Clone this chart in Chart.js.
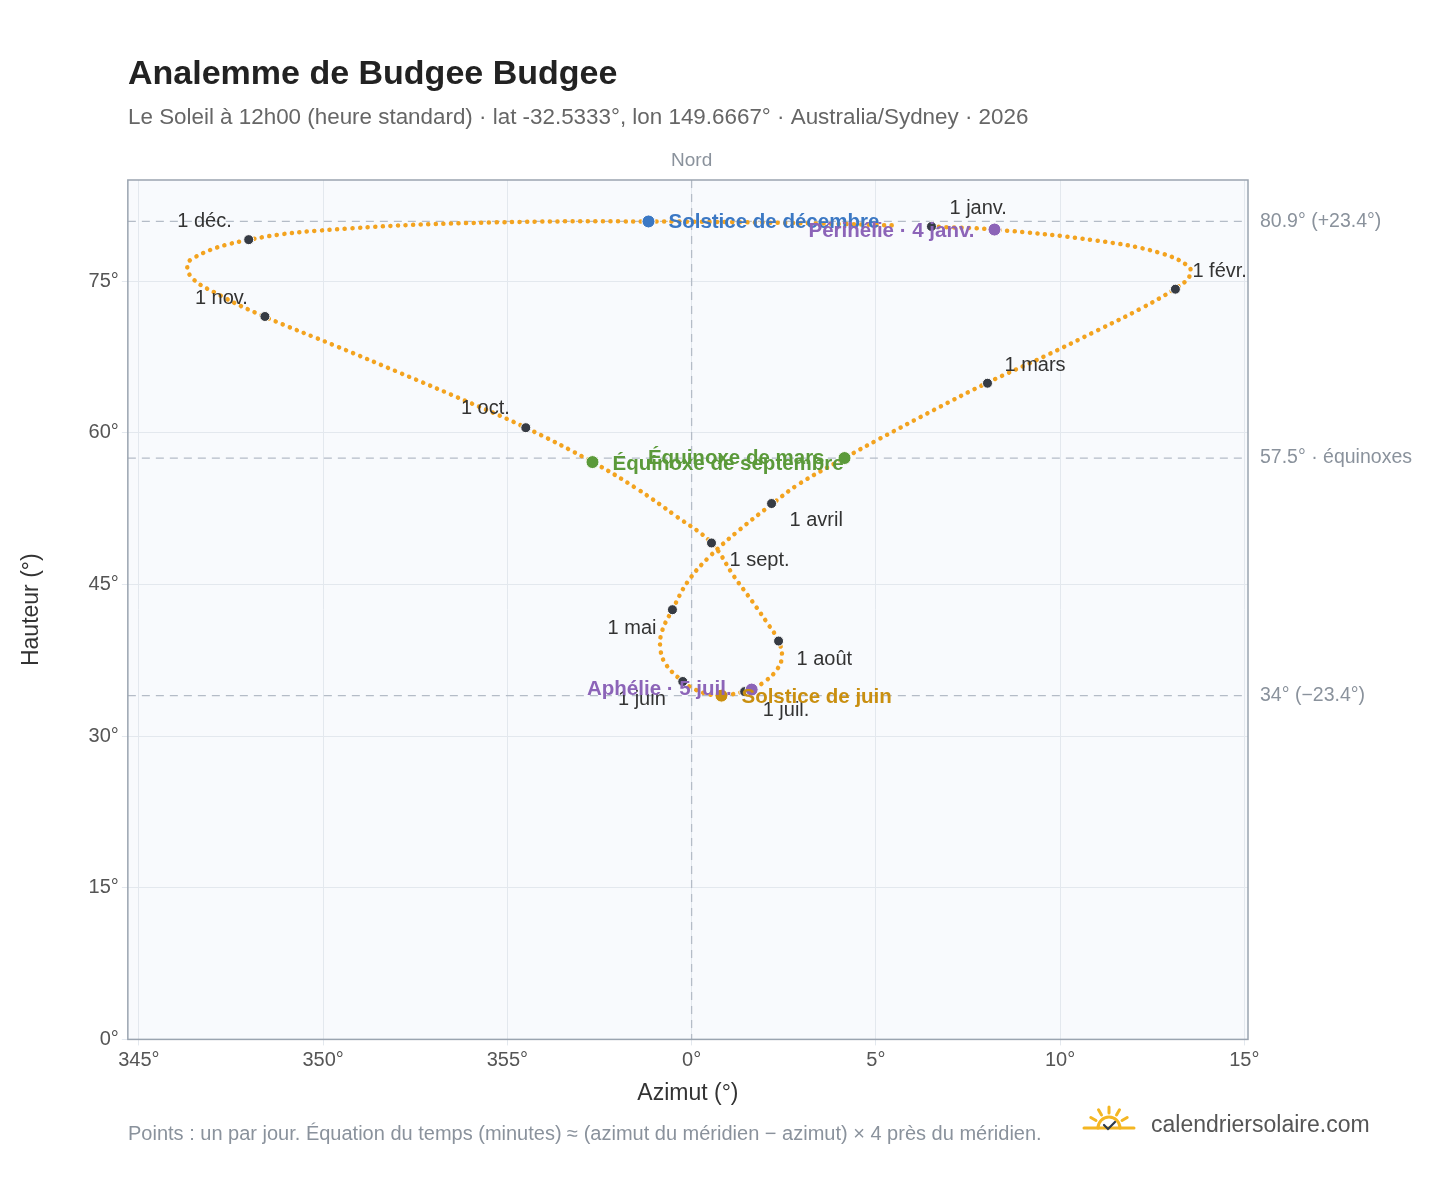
<!DOCTYPE html>
<html><head><meta charset="utf-8">
<script src="https://cdn.jsdelivr.net/npm/chart.js@4/dist/chart.umd.min.js"></script>
<style>html,body{margin:0;background:#fff}#wrap{width:1448px;height:1188px}</style>
</head><body><div id="wrap"><canvas id="c" width="1448" height="1188"></canvas></div>
<script>
// trajectoire du Soleil à midi (azimut relatif au nord, hauteur)
const pathAz = [6.5,8.2,11.0,12.7,13.5,13.5,13.1,12.2,11.0,9.6,8.0,6.6,5.1,4.15,2.9,2.2,1.3,0.5,-0.1,-0.52,-0.8,-0.85,-0.7,-0.24,0.1,0.5,0.81,1.44,1.65,1.95,2.3,2.45,2.36,2.05,1.65,1.15,0.54,-0.4,-1.5,-2.69,-4.5,-6.1,-7.9,-9.6,-11.6,-12.8,-13.6,-13.6,-12.0,-9.3,-5.4,-1.17,3.4,5.6];
const pathAlt = [80.4,80.1,79.0,77.8,76.4,75.4,74.2,72.3,70.1,67.6,64.9,62.3,59.4,57.5,54.9,53.0,50.4,47.8,45.3,42.5,40.4,38.7,37.1,35.4,34.6,34.1,34.0,34.4,34.7,35.3,36.5,37.8,39.4,41.2,43.3,45.8,49.1,51.7,54.5,57.1,60.5,63.1,65.9,68.5,71.5,73.6,75.5,77.1,79.1,80.2,80.8,80.9,80.7,80.5];

const monthLabels = ['1 janv.','1 févr.','1 mars','1 avril','1 mai','1 juin','1 juil.','1 août','1 sept.','1 oct.','1 nov.','1 déc.'];
const monthAz = [6.51,13.13,8.03,2.17,-0.52,-0.24,1.44,2.36,0.54,-4.50,-11.58,-12.02];
const monthAlt = [80.4,74.2,64.9,53.0,42.5,35.4,34.4,39.4,49.1,60.5,71.5,79.1];

const eventLabels = ['Solstice de décembre','Périhélie · 4 janv.','Équinoxe de mars','Équinoxe de septembre','Solstice de juin','Aphélie · 5 juil.'];
const eventAz = [-1.17,8.22,4.15,-2.69,0.81,1.63];
const eventAlt = [80.9,80.1,57.5,57.1,34.0,34.6];
const eventColors = ['#3b78c4','#8c64b8','#5b9a3a','#5b9a3a','#c98f10','#8c64b8'];

const refLines = [80.9, 57.5, 34.0];
const refLabels = ['80.9° (+23.4°)','57.5° · équinoxes','34° (−23.4°)'];
const xTicks = [-15,-10,-5,0,5,10,15];
const yTicks = [0,15,30,45,60,75];

// décalages des étiquettes [dx, dy, alignement]
const monthOffsets = [[18,-18,'left'],[17,-18,'left'],[17,-18,'left'],[18,17,'left'],[-16,19,'right'],[-17,18,'right'],[18,19,'left'],[18,18,'left'],[18,18,'left'],[-16,-19,'right'],[-17,-18,'right'],[-17,-18,'right']];
const eventOffsets = [[20,1,'left'],[-20,2,'right'],[-20,0,'right'],[20,2,'left'],[20,2,'left'],[-20,0,'right']];

const FONT = '"Liberation Sans", Arial, sans-serif';

const decor = {
  id: 'decor',
  beforeDatasetsDraw(chart) {
    const {ctx, chartArea: a, scales: {x, y}} = chart;
    ctx.save();
    ctx.strokeStyle = '#b4bcc7'; ctx.lineWidth = 1.3; ctx.setLineDash([8, 6]);
    refLines.forEach(v => {
      const py = y.getPixelForValue(v);
      ctx.beginPath(); ctx.moveTo(a.left, py); ctx.lineTo(a.right, py); ctx.stroke();
    });
    const px0 = x.getPixelForValue(0);
    ctx.beginPath(); ctx.moveTo(px0, a.top); ctx.lineTo(px0, a.bottom); ctx.stroke();
    ctx.restore();
  },
  beforeDraw(chart) {
    const {ctx, chartArea: a} = chart;
    ctx.save();
    ctx.fillStyle = '#f8fafd';
    ctx.fillRect(a.left, a.top, a.right - a.left, a.bottom - a.top);
    ctx.restore();
  },
  afterDatasetsDraw(chart) {
    const {ctx, chartArea: a, scales: {x, y}} = chart;
    ctx.save();
    ctx.textBaseline = 'middle';
    ctx.font = '20px ' + FONT; ctx.fillStyle = '#333';
    monthLabels.forEach((t, i) => {
      const o = monthOffsets[i];
      ctx.textAlign = o[2];
      ctx.fillText(t, x.getPixelForValue(monthAz[i]) + o[0], y.getPixelForValue(monthAlt[i]) + o[1]);
    });
    ctx.font = 'bold 20.5px ' + FONT;
    eventLabels.forEach((t, i) => {
      const o = eventOffsets[i];
      ctx.textAlign = o[2]; ctx.fillStyle = eventColors[i];
      ctx.fillText(t, x.getPixelForValue(eventAz[i]) + o[0], y.getPixelForValue(eventAlt[i]) + o[1]);
    });
    ctx.font = '19.5px ' + FONT; ctx.fillStyle = '#8a929c'; ctx.textAlign = 'left';
    refLines.forEach((v, i) => ctx.fillText(refLabels[i], a.right + 12, y.getPixelForValue(v)));
    ctx.textAlign = 'center'; ctx.font = '19px ' + FONT;
    ctx.fillText('Nord', x.getPixelForValue(0), a.top - 19);
    ctx.strokeStyle = '#9aa4b0'; ctx.lineWidth = 1.5;
    ctx.strokeRect(a.left, a.top, a.right - a.left, a.bottom - a.top);
    // titre, sous-titre, note
    ctx.textAlign = 'left'; ctx.textBaseline = 'alphabetic';
    ctx.fillStyle = '#222'; ctx.font = 'bold 34px ' + FONT;
    ctx.fillText('Analemme de Budgee Budgee', 128, 84);
    ctx.fillStyle = '#666'; ctx.font = '22.4px ' + FONT;
    ctx.fillText('Le Soleil à 12h00 (heure standard) · lat -32.5333°, lon 149.6667° · Australia/Sydney · 2026', 128, 124);
    ctx.fillStyle = '#8a929c'; ctx.font = '20px ' + FONT;
    ctx.fillText('Points : un par jour. Équation du temps (minutes) ≈ (azimut du méridien − azimut) × 4 près du méridien.', 128, 1140);
    ctx.fillStyle = '#555'; ctx.font = '23px ' + FONT;
    ctx.fillText('calendriersolaire.com', 1151, 1132);
    // petit soleil
    const cx = 1109, cy = 1128;
    ctx.strokeStyle = '#f4b622'; ctx.lineWidth = 3; ctx.lineCap = 'round';
    ctx.beginPath(); ctx.arc(cx, cy, 11, Math.PI, 2 * Math.PI); ctx.stroke();
    ctx.beginPath(); ctx.moveTo(cx - 25, cy); ctx.lineTo(cx + 25, cy); ctx.stroke();
    [-150, -120, -90, -60, -30].forEach(d => {
      const r = d * Math.PI / 180;
      ctx.beginPath();
      ctx.moveTo(cx + Math.cos(r) * 15, cy + Math.sin(r) * 15);
      ctx.lineTo(cx + Math.cos(r) * 21, cy + Math.sin(r) * 21); ctx.stroke();
    });
    ctx.strokeStyle = '#2d3a4a'; ctx.lineWidth = 2.2;
    ctx.beginPath(); ctx.moveTo(cx - 5, cy - 3); ctx.lineTo(cx - 1, cy + 1); ctx.lineTo(cx + 6, cy - 6); ctx.stroke();
    ctx.restore();
  }
};

new Chart(document.getElementById('c'), {
  type: 'scatter',
  data: {
    datasets: [
      {
        order: 3,
        data: pathAz.map((v, i) => ({x: v, y: pathAlt[i]})),
        showLine: true, tension: 0.4, pointRadius: 0,
        borderColor: '#f3a31f', borderWidth: 4.5, borderDash: [0.1, 7.5], borderCapStyle: 'round'
      },
      {
        order: 2,
        data: monthAz.map((v, i) => ({x: v, y: monthAlt[i]})),
        pointRadius: 5, pointBackgroundColor: '#363b44', pointBorderColor: '#fff', pointBorderWidth: 1
      },
      {
        order: 1,
        data: eventAz.map((v, i) => ({x: v, y: eventAlt[i]})),
        pointRadius: 6.5, pointBackgroundColor: eventColors, pointBorderColor: '#fff', pointBorderWidth: 1
      }
    ]
  },
  options: {
    responsive: false, animation: false,
    layout: {padding: {left: 18, right: 200, top: 180, bottom: 81}},
    plugins: {legend: {display: false}, tooltip: {enabled: false}},
    scales: {
      x: {
        min: -15.3, max: 15.1,
        afterBuildTicks: s => { s.ticks = xTicks.map(v => ({value: v})); },
        ticks: {color: '#555', font: {size: 20, family: FONT}, callback: v => ((v + 360) % 360) + '°'},
        grid: {color: '#e3e8ee', drawTicks: true, tickLength: 6},
        border: {display: false},
        title: {display: true, text: 'Azimut (°)', color: '#333', font: {size: 23, family: FONT}, padding: {top: 4, bottom: 0}}
      },
      y: {
        min: 0, max: 85,
        afterBuildTicks: s => { s.ticks = yTicks.map(v => ({value: v})); },
        ticks: {color: '#555', font: {size: 20, family: FONT}, callback: v => v + '°'},
        grid: {color: '#e3e8ee', tickLength: 6},
        border: {display: false},
        title: {display: true, text: 'Hauteur (°)', color: '#333', font: {size: 23, family: FONT}, padding: {top: 0, bottom: 40}}
      }
    }
  },
  plugins: [decor]
});
</script></body></html>
